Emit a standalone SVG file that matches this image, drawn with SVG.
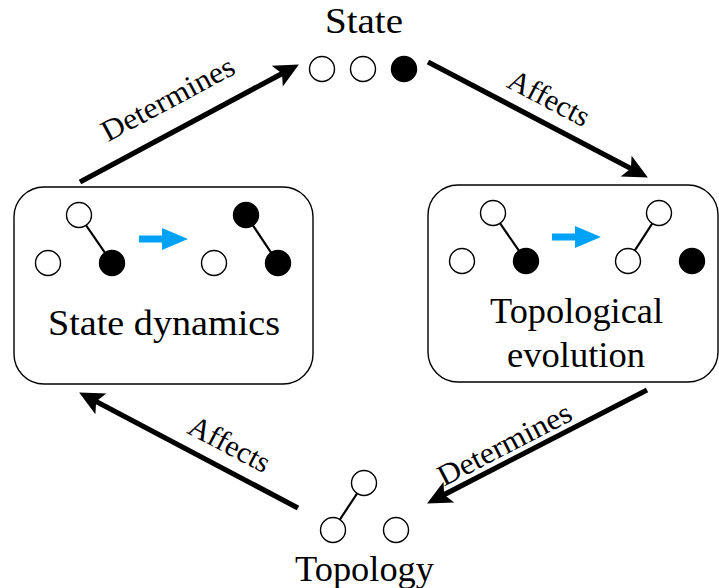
<svg xmlns="http://www.w3.org/2000/svg" width="719" height="588" viewBox="0 0 719 588">
  <defs>
    <style>
      .lbl { font-family: 'Liberation Serif', 'DejaVu Serif', serif; fill: #000; }
      .big { font-size: 36px; text-anchor: middle; }
      .edge-lbl { font-size: 30px; text-anchor: middle; }
      .box { fill: #fff; stroke: #000; stroke-width: 1.4; }
      .v-open { fill: #fff; stroke: #000; stroke-width: 1.4; }
      .v-fill { fill: #000; stroke: #000; stroke-width: 1.4; }
      .link { stroke: #000; stroke-width: 2.2; fill: none; }
      .flow { stroke: #000; stroke-width: 5.2; fill: none; marker-end: url(#head); }
    </style>
    <marker id="head" markerUnits="userSpaceOnUse" markerWidth="32" markerHeight="32" viewBox="-2 -15 30 30" refX="8" refY="0" orient="auto">
      <path d="M23,0 L0,-11 L5,0 L0,11 Z" fill="#000"/>
    </marker>
    <path id="step" d="M0,-3.5 L23,-3.5 L23,-11 L49,0 L23,11 L23,3.5 L0,3.5 Z" fill="#00A2F8"/>
  </defs>

  <!-- cycle of relations between the four parts -->
  <g id="connectors">
    <line class="flow" x1="80" y1="182" x2="284.8" y2="72.1"/>
    <line class="flow" x1="428" y1="62" x2="633.7" y2="170"/>
    <line class="flow" x1="647" y1="390" x2="441.3" y2="496.1"/>
    <line class="flow" x1="298" y1="508" x2="93.3" y2="400"/>
    <text class="lbl edge-lbl" textLength="147" lengthAdjust="spacingAndGlyphs" transform="translate(172.5 107.5) rotate(-28.2)">Determines</text>
    <text class="lbl edge-lbl" textLength="88" lengthAdjust="spacingAndGlyphs" transform="translate(544.5 107) rotate(27.7)">Affects</text>
    <text class="lbl edge-lbl" textLength="147" lengthAdjust="spacingAndGlyphs" transform="translate(509 453) rotate(-27.3)">Determines</text>
    <text class="lbl edge-lbl" textLength="88" lengthAdjust="spacingAndGlyphs" transform="translate(225 453) rotate(27.8)">Affects</text>
  </g>

  <!-- state: three vertices, one active -->
  <g id="node-state">
    <text class="lbl big" x="364" y="33" textLength="78" lengthAdjust="spacingAndGlyphs">State</text>
    <circle class="v-open" cx="322" cy="69" r="12.5"/>
    <circle class="v-open" cx="363" cy="69" r="12.5"/>
    <circle class="v-fill" cx="404" cy="69" r="12.5"/>
  </g>

  <!-- state dynamics: activity spreads along an edge -->
  <g id="node-state-dynamics">
    <rect class="box" x="14" y="187" width="299" height="197" rx="30" ry="30"/>
    <line class="link" x1="79" y1="215" x2="112" y2="263"/>
    <circle class="v-open" cx="79" cy="215" r="12.5"/>
    <circle class="v-open" cx="48" cy="263" r="12.5"/>
    <circle class="v-fill" cx="112" cy="263" r="12.5"/>
    <use href="#step" x="139" y="239"/>
    <line class="link" x1="246" y1="215" x2="278" y2="263"/>
    <circle class="v-open" cx="214" cy="263" r="12.5"/>
    <circle class="v-fill" cx="246" cy="215" r="12.5"/>
    <circle class="v-fill" cx="278" cy="263" r="12.5"/>
    <text class="lbl big" x="164" y="335" textLength="232" lengthAdjust="spacingAndGlyphs">State dynamics</text>
  </g>

  <!-- topological evolution: an edge is rewired -->
  <g id="node-topological-evolution">
    <rect class="box" x="428" y="185" width="290" height="197" rx="30" ry="30"/>
    <line class="link" x1="493" y1="213" x2="526" y2="261"/>
    <circle class="v-open" cx="493" cy="213" r="12.5"/>
    <circle class="v-open" cx="462" cy="261" r="12.5"/>
    <circle class="v-fill" cx="526" cy="261" r="12.5"/>
    <use href="#step" x="552" y="237"/>
    <line class="link" x1="659" y1="213" x2="628" y2="261"/>
    <circle class="v-open" cx="659" cy="213" r="12.5"/>
    <circle class="v-open" cx="628" cy="261" r="12.5"/>
    <circle class="v-fill" cx="692" cy="261" r="12.5"/>
    <text class="lbl big" x="576.5" y="323" textLength="173" lengthAdjust="spacingAndGlyphs">Topological</text>
    <text class="lbl big" x="576" y="367" textLength="138" lengthAdjust="spacingAndGlyphs">evolution</text>
  </g>

  <!-- topology: vertices and their single edge -->
  <g id="node-topology">
    <line class="link" x1="333" y1="530" x2="364" y2="483"/>
    <circle class="v-open" cx="364" cy="483" r="12.5"/>
    <circle class="v-open" cx="333" cy="530" r="12.5"/>
    <circle class="v-open" cx="396" cy="530" r="12.5"/>
    <text class="lbl big" x="364.5" y="581" textLength="139" lengthAdjust="spacingAndGlyphs">Topology</text>
  </g>
</svg>
